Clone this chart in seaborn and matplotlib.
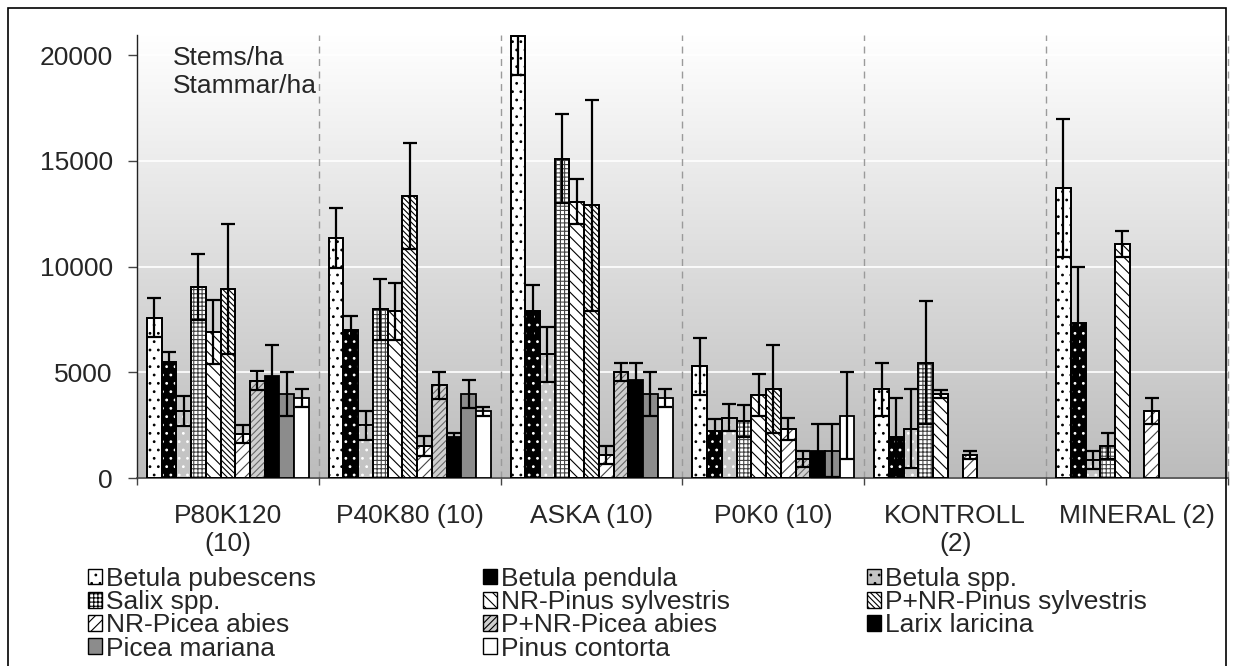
import numpy as np
import pandas as pd
import matplotlib
matplotlib.use("Agg")
import matplotlib.pyplot as plt
import matplotlib.patches as mpatches
from matplotlib.colors import LinearSegmentedColormap
import seaborn as sns

# ---------------- data ----------------
groups = ["P80K120\n(10)", "P40K80 (10)", "ASKA (10)", "P0K0 (10)", "KONTROLL\n(2)", "MINERAL (2)"]
species = ["Betula pubescens", "Betula pendula", "Betula spp.", "Salix spp.",
           "NR-Pinus sylvestris", "P+NR-Pinus sylvestris", "NR-Picea abies",
           "P+NR-Picea abies", "Larix laricina", "Picea mariana", "Pinus contorta"]
nan = np.nan
betula_pubescens = [7580, 11360, 20900, 5280, 4200, 13700]
betula_pubescens_se = [920, 1420, 1850, 1355, 1250, 3260]
betula_pendula = [5470, 7000, 7900, 2220, 1950, 7340]
betula_pendula_se = [470, 660, 1230, 590, 1810, 2650]
betula_spp = [3170, 2490, 5850, 2850, 2330, 850]
betula_spp_se = [710, 690, 1290, 650, 1870, 420]
salix_spp = [9020, 7975, 15100, 2700, 5450, 1500]
salix_spp_se = [1550, 1450, 2110, 750, 2900, 615]
nr_pinus = [6900, 7880, 13070, 3930, 3970, 11060]
nr_pinus_se = [1510, 1355, 1065, 985, 180, 605]
pnr_pinus = [8940, 13330, 12890, 4200, nan, nan]
pnr_pinus_se = [3070, 2490, 4980, 2090, nan, nan]
nr_picea = [2080, 1530, 1080, 2320, 1090, 3170]
nr_picea_se = [430, 475, 433, 520, 205, 620]
pnr_picea = [4600, 4380, 5020, 900, nan, nan]
pnr_picea_se = [440, 630, 433, 380, nan, nan]
larix = [4840, 1950, 4630, 1290, nan, nan]
larix_se = [1450, 190, 820, 1260, nan, nan]
picea_mariana = [3990, 3980, 3980, 1290, nan, nan]
picea_mariana_se = [1040, 650, 1050, 1260, nan, nan]
pinus_contorta = [3780, 3150, 3770, 2950, nan, nan]
pinus_contorta_se = [410, 220, 426, 2070, nan, nan]
y_ticks = [0, 5000, 10000, 15000, 20000]
annotation = "Stems/ha\nStammar/ha"

means = [betula_pubescens, betula_pendula, betula_spp, salix_spp, nr_pinus, pnr_pinus,
         nr_picea, pnr_picea, larix, picea_mariana, pinus_contorta]
errs = [betula_pubescens_se, betula_pendula_se, betula_spp_se, salix_spp_se, nr_pinus_se,
        pnr_pinus_se, nr_picea_se, pnr_picea_se, larix_se, picea_mariana_se, pinus_contorta_se]

# ---------------- styles ----------------
styles = [
    dict(fc="white", hatch="..", hc="black", hlw=0.3),
    dict(fc="black", hatch="..", hc="white", hlw=0.3),
    dict(fc="#c4c4c4", hatch="..", hc="white", hlw=0.3),
    dict(fc="white", hatch="++++", hc="#444444", hlw=0.5),
    dict(fc="white", hatch="\\\\\\", hc="black", hlw=1.7),
    dict(fc="white", hatch="\\\\\\\\\\\\", hc="black", hlw=0.7),
    dict(fc="white", hatch="///", hc="#444444", hlw=0.8),
    dict(fc="#cfcfcf", hatch="/////", hc="#6a6a6a", hlw=0.6),
    dict(fc="black", hatch="", hc="black", hlw=1.0),
    dict(fc="#8c8c8c", hatch="", hc="black", hlw=1.0),
    dict(fc="white", hatch="", hc="black", hlw=1.0),
]

W, H = 1234, 666
sns.set_style("ticks")
plt.rcParams["font.family"] = ["Liberation Sans", "DejaVu Sans"]
plt.rcParams["hatch.linewidth"] = 0.8
FS = 19

fig = plt.figure(figsize=(W / 100, H / 100), dpi=100)
pos = [137 / W, 1 - 478 / H, (1228 - 137) / W, (478 - 35) / H]

# gradient background of plot area
bg = fig.add_axes(pos, zorder=0)
grad = np.linspace(1, 0, 256).reshape(-1, 1)
cmap = LinearSegmentedColormap.from_list("g", ["#bcbcbc", "#ffffff"])
bg.imshow(grad, aspect="auto", cmap=cmap, extent=[0, 1, 0, 1], origin="upper")
bg.axis("off")

ax = fig.add_axes(pos, zorder=1)
ax.patch.set_alpha(0)

rows = []
for sp, vals in zip(species, means):
    for g, v in zip(groups, vals):
        if not np.isnan(v):
            rows.append((g, sp, v))
df = pd.DataFrame(rows, columns=["group", "species", "stems"])

BW = 0.891
sns.barplot(data=df, x="group", y="stems", hue="species", order=groups, hue_order=species,
            palette={sp: st["fc"] for sp, st in zip(species, styles)}, saturation=1,
            width=BW, gap=0, dodge=True, errorbar=None, edgecolor="black", linewidth=1.3,
            legend=False, ax=ax, zorder=3)

has_hc = hasattr(mpatches.Patch, "set_hatchcolor")
ex, ey, ee = [], [], []
for p in list(ax.patches):
    xc = p.get_x() + p.get_width() / 2
    g = int(round(xc))
    i = int(round((xc - g + BW / 2) / (BW / 11) - 0.5))
    st = styles[i]
    p.set_facecolor(st["fc"])
    if st["hatch"]:
        if has_hc:
            p.set_hatch(st["hatch"])
            p.set_hatchcolor(st["hc"])
            if hasattr(p, "set_hatch_linewidth"):
                p.set_hatch_linewidth(st["hlw"])
        else:
            ax.bar(xc, p.get_height(), p.get_width(), facecolor="none", edgecolor=st["hc"],
                   linewidth=0, hatch=st["hatch"], zorder=3.05)
            ax.bar(xc, p.get_height(), p.get_width(), facecolor="none", edgecolor="black",
                   linewidth=1.3, zorder=3.1)
    e = errs[i][g]
    if not np.isnan(e):
        ex.append(xc)
        ey.append(means[i][g])
        ee.append(e)

ax.errorbar(ex, ey, yerr=ee, fmt="none", ecolor="black", elinewidth=1.6, capsize=5.2,
            capthick=1.6, zorder=4)

# axes
ax.set_xlim(-0.5, 5.5)
ax.set_ylim(0, 20950)
ax.set_yticks(y_ticks, labels=[str(t) for t in y_ticks], fontsize=FS)
ax.set_xticks(range(len(groups)), labels=groups, fontsize=FS)
for lab in ax.get_xticklabels():
    lab.set_linespacing(1.25)
ax.set_xticks(np.arange(-0.5, 6, 1), minor=True)
ax.tick_params(axis="x", which="major", length=0, pad=18.5)
ax.tick_params(axis="x", which="minor", length=5, width=1, color="#444444", direction="out")
ax.tick_params(axis="y", which="major", length=6.5, width=1, color="#444444", direction="out", pad=11)
ax.set_xlabel("")
ax.set_ylabel("")
for s in ["top", "right"]:
    ax.spines[s].set_visible(False)
ax.spines["left"].set_color("#222222")
ax.spines["bottom"].set_color("#444444")
ax.spines["left"].set_linewidth(1)
ax.spines["bottom"].set_linewidth(1.2)
ax.yaxis.grid(True, color="white", linewidth=1.2)
ax.set_axisbelow(True)
for xb in np.arange(0.5, 6, 1):
    ax.axvline(xb, color="#9a9a9a", linewidth=1, linestyle=(0, (5, 4)), zorder=1, clip_on=False)

fig.text(173 / W, 1 - 46 / H, annotation, ha="left", va="top", fontsize=FS, linespacing=1.2)

# legend (three columns, row-wise order as in the original)
handles = []
for st in styles:
    hp = mpatches.Patch(facecolor=st["fc"], edgecolor="black", linewidth=1.0, hatch=st["hatch"] or None)
    if has_hc and st["hatch"]:
        hp.set_hatchcolor(st["hc"])
    handles.append(hp)
cols = [[0, 3, 6, 9], [1, 4, 7, 10], [2, 5, 8]]
col_x = [88, 483, 867]
for idxs, x0 in zip(cols, col_x):
    fig.legend(handles=[handles[j] for j in idxs], labels=[species[j] for j in idxs],
               loc="upper left", bbox_to_anchor=(x0 / W, 1 - 567 / H), bbox_transform=fig.transFigure,
               frameon=False, borderpad=0, borderaxespad=0, handlelength=0.53, handleheight=0.53,
               handletextpad=0.15, labelspacing=-0.03, fontsize=FS)

# chart frame
fig.add_artist(mpatches.Rectangle((8 / W, -0.05), (1226 - 8) / W, (666 - 8) / H + 0.05,
                                  transform=fig.transFigure, fill=False, edgecolor="black",
                                  linewidth=1.2, zorder=10))

fig.savefig("out.png", dpi=100)
